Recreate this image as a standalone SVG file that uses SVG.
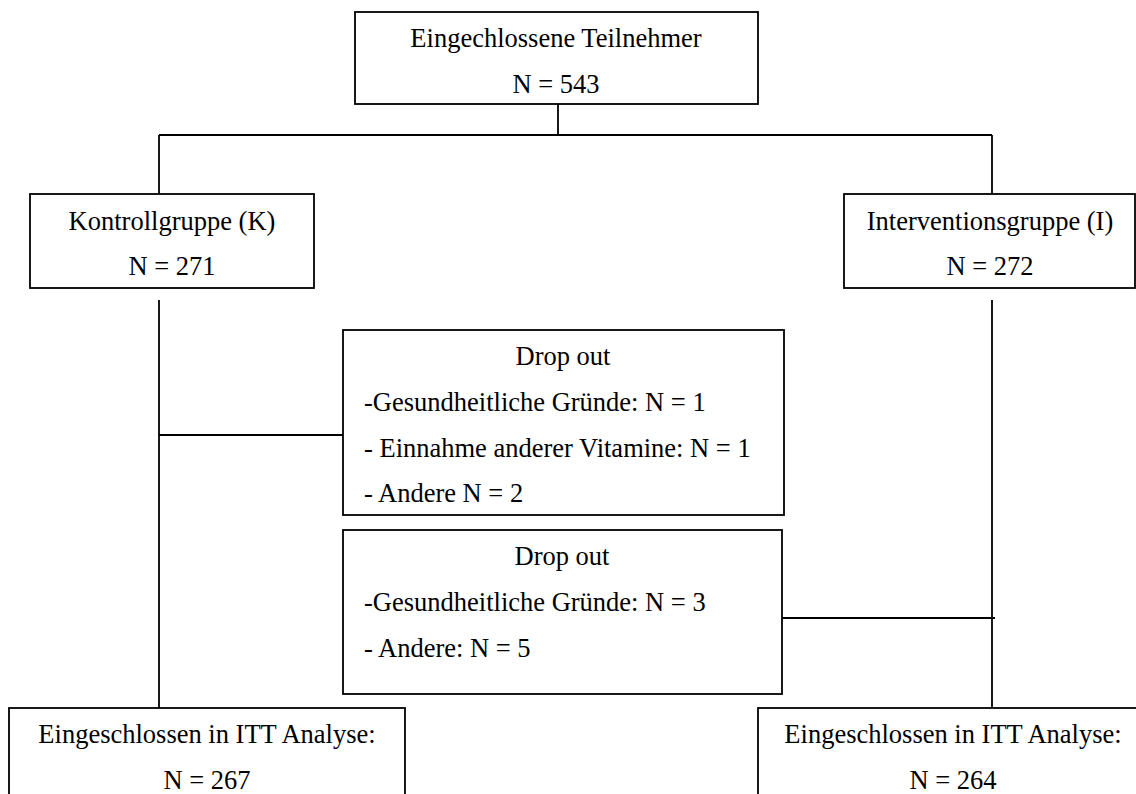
<svg xmlns="http://www.w3.org/2000/svg" width="1136" height="794" viewBox="0 0 1136 794">
<style>
.box{fill:#fff;stroke:#000;stroke-width:1.8}
.ln{fill:none;stroke:#000;stroke-width:1.8}
text{font-family:"Liberation Serif","Times New Roman",serif;font-size:26.5px;fill:#000}
.c{text-anchor:middle}
</style>
<rect width="1136" height="794" fill="#fff"/>
<g id="connectors">
<line class="ln" x1="558" y1="104" x2="558" y2="135"/>
<line class="ln" x1="159" y1="135" x2="992" y2="135"/>
<line class="ln" x1="159" y1="135" x2="159" y2="194"/>
<line class="ln" x1="992" y1="135" x2="992" y2="194"/>
<line class="ln" x1="159" y1="300" x2="159" y2="708"/>
<line class="ln" x1="992" y1="300" x2="992" y2="708"/>
<line class="ln" x1="159" y1="435" x2="343" y2="435"/>
<line class="ln" x1="782" y1="618" x2="995" y2="618"/>
</g>
<g id="top">
<rect class="box" x="355" y="12" width="403" height="92"/>
<text class="c" x="556" y="47">Eingechlossene Teilnehmer</text>
<text class="c" x="556" y="93">N = 543</text>
</g>
<g id="kontroll">
<rect class="box" x="30" y="194" width="284" height="94"/>
<text class="c" x="172" y="230">Kontrollgruppe (K)</text>
<text class="c" x="172" y="275">N = 271</text>
</g>
<g id="intervention">
<rect class="box" x="844" y="194" width="291" height="94"/>
<text class="c" x="990" y="230">Interventionsgruppe (I)</text>
<text class="c" x="990" y="275">N = 272</text>
</g>
<g id="dropout1">
<rect class="box" x="343" y="330" width="441" height="185"/>
<text class="c" x="563" y="365">Drop out</text>
<text x="364" y="411">-Gesundheitliche Gründe: N = 1</text>
<text x="364" y="457">- Einnahme anderer Vitamine: N = 1</text>
<text x="364" y="502">- Andere N = 2</text>
</g>
<g id="dropout2">
<rect class="box" x="343" y="530" width="439" height="164"/>
<text class="c" x="562" y="565">Drop out</text>
<text x="364" y="611">-Gesundheitliche Gründe: N = 3</text>
<text x="364" y="657">- Andere: N = 5</text>
</g>
<g id="itt-k">
<rect class="box" x="9" y="708" width="396" height="100"/>
<text class="c" x="207" y="743">Eingeschlossen in ITT Analyse:</text>
<text class="c" x="207" y="789">N = 267</text>
</g>
<g id="itt-i">
<rect class="box" x="758" y="708" width="400" height="100"/>
<text class="c" x="953" y="743">Eingeschlossen in ITT Analyse:</text>
<text class="c" x="953" y="789">N = 264</text>
</g>
</svg>
